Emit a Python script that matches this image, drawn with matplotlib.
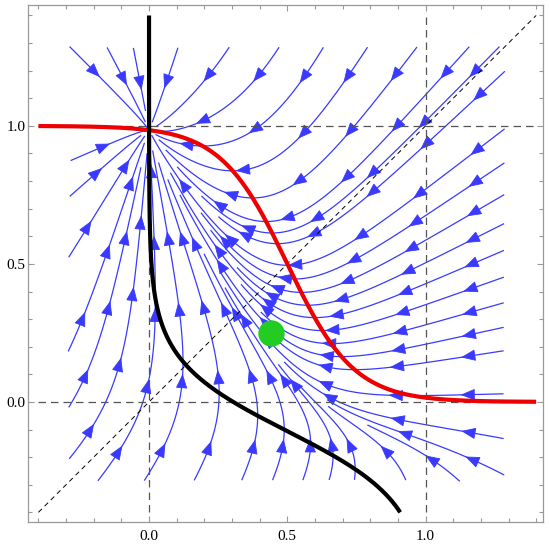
import numpy as np
import matplotlib
matplotlib.use('Agg')
import matplotlib.pyplot as plt
from matplotlib.ticker import MultipleLocator
from matplotlib.patches import FancyArrowPatch

# ── Model ──
# red curve  : y = 1 / (1 + exp(red_k * (x - red_mid)))      (dy/dt = 0)
# black curve: x = 1 / (1 + exp(black_k * (y - black_mid)))  (dx/dt = 0)
red_k, red_mid = 8.3, 0.5
black_k, black_mid = 7.8, -0.106

green_x, green_y = 0.44, 0.25

# streamline seeds (where the blue lines begin)
seed_top_x = [-0.30, -0.16, -0.06, 0.11, 0.30, 0.48, 0.64, 0.80, 0.98, 1.17, 1.28]
seed_right_y = [1.21, 1.00, 0.876, 0.76, 0.654, 0.556, 0.458, 0.364, 0.274,
                0.188, 0.03, -0.136, -0.273]
seed_bottom_x = [-0.196, -0.027, 0.155, 0.328, 0.44, 0.55, 0.646, 0.74, 0.935, 1.137]
seed_left_y = [0.867, 0.733, 0.509, 0.167, -0.035, -0.22]
seed_inner_x = [0.828, 0.943]
seed_inner_y = [-0.103, -0.121]

LO, HI = -0.3, 1.3           # stream region
CURVE_LO, CURVE_HI = -0.4, 1.4
PX = 276.5                   # pixels per data unit
BLUE = '#3a3aff'


def red_curve(x):
    return 1.0 / (1.0 + np.exp(red_k * (x - red_mid)))


def black_curve(y):
    return 1.0 / (1.0 + np.exp(black_k * (y - black_mid)))


fig = plt.figure(figsize=(5.5, 5.47), dpi=100)
ax = fig.add_axes([0.0515, 0.0457, 0.9364, 0.9452])

# ── vector field ──
gx = np.linspace(LO - 0.005, HI + 0.005, 161)
gy = np.linspace(LO - 0.005, HI + 0.005, 161)
X, Y = np.meshgrid(gx, gy)
U = black_curve(Y) - X
V = red_curve(X) - Y

seeds = ([(x, HI) for x in seed_top_x] +
         [(HI, y) for y in seed_right_y] +
         [(x, LO) for x in seed_bottom_x] +
         [(LO, y) for y in seed_left_y] +
         list(zip(seed_inner_x, seed_inner_y)))

sp = ax.streamplot(gx, gy, U, V, start_points=np.array(seeds), density=3,
                   color=BLUE, linewidth=0.9, arrowsize=1.6, arrowstyle='-|>',
                   integration_direction='forward', broken_streamlines=True,
                   maxlength=10, minlength=0.05, zorder=1)
for p in list(ax.patches):
    p.remove()

# rebuild trajectories from the line segments and put arrows along them
trajs = []
for seg in sp.lines.get_segments():
    seg = np.asarray(seg)
    if trajs and np.allclose(trajs[-1][-1], seg[0]):
        trajs[-1].extend(list(seg[1:]))
    else:
        trajs.append(list(seg))

for tr in trajs:
    tr = np.array(tr)
    s = np.concatenate([[0], np.cumsum(np.hypot(*np.diff(tr, axis=0).T))]) * PX
    pos = 38.0
    while pos < s[-1] - 18:
        tail = [np.interp(pos - 6, s, tr[:, 0]), np.interp(pos - 6, s, tr[:, 1])]
        tip = [np.interp(pos + 5, s, tr[:, 0]), np.interp(pos + 5, s, tr[:, 1])]
        ax.add_patch(FancyArrowPatch(tail, tip, arrowstyle='-|>,head_length=0.7,head_width=0.28',
                                     mutation_scale=13, color=BLUE, lw=0.6,
                                     shrinkA=0, shrinkB=0, zorder=1))
        pos += 72

# ── reference lines ──
dash_kw = dict(color='#555555', lw=0.9, dashes=(6, 4), zorder=2)
ax.plot([CURVE_LO, CURVE_HI], [0, 0], **dash_kw)
ax.plot([CURVE_LO, CURVE_HI], [1, 1], **dash_kw)
ax.plot([0, 0], [CURVE_LO, CURVE_HI], **dash_kw)
ax.plot([1, 1], [CURVE_LO, CURVE_HI], **dash_kw)
ax.plot([CURVE_LO, CURVE_HI], [CURVE_LO, CURVE_HI], color='black', lw=0.7,
        dashes=(5, 4), zorder=2)

# ── nullclines ──
t = np.linspace(CURVE_LO, CURVE_HI, 400)
ax.plot(t, red_curve(t), color='#ee0000', lw=3, zorder=3, solid_capstyle='butt')
ax.plot(black_curve(t), t, color='black', lw=3, zorder=3, solid_capstyle='butt')

ax.plot([green_x], [green_y], 'o', color='#22cc22', ms=19, mec='none', zorder=4)

# ── frame & ticks ──
ax.set_xlim(-0.4365, 1.426)
ax.set_ylim(-0.435, 1.438)
for spine in ax.spines.values():
    spine.set_color('#999999')
    spine.set_linewidth(0.9)
ax.xaxis.set_major_locator(MultipleLocator(0.5))
ax.yaxis.set_major_locator(MultipleLocator(0.5))
ax.xaxis.set_minor_locator(MultipleLocator(0.1))
ax.yaxis.set_minor_locator(MultipleLocator(0.1))
ax.xaxis.set_major_formatter(plt.FuncFormatter(lambda v, p: f'{v:.1f}'))
ax.yaxis.set_major_formatter(plt.FuncFormatter(lambda v, p: f'{v:.1f}'))
ax.tick_params(which='both', direction='in', top=True, right=True,
               color='#999999', width=0.8)
ax.tick_params(which='major', length=4.5)
ax.tick_params(which='minor', length=2.8)
ax.tick_params(axis='x', which='major', pad=6)
ax.tick_params(axis='y', which='major', pad=2)
for lab in ax.get_xticklabels() + ax.get_yticklabels():
    lab.set_fontfamily('Liberation Serif')
    lab.set_fontsize(11)

plt.savefig('out.png', dpi=100)
